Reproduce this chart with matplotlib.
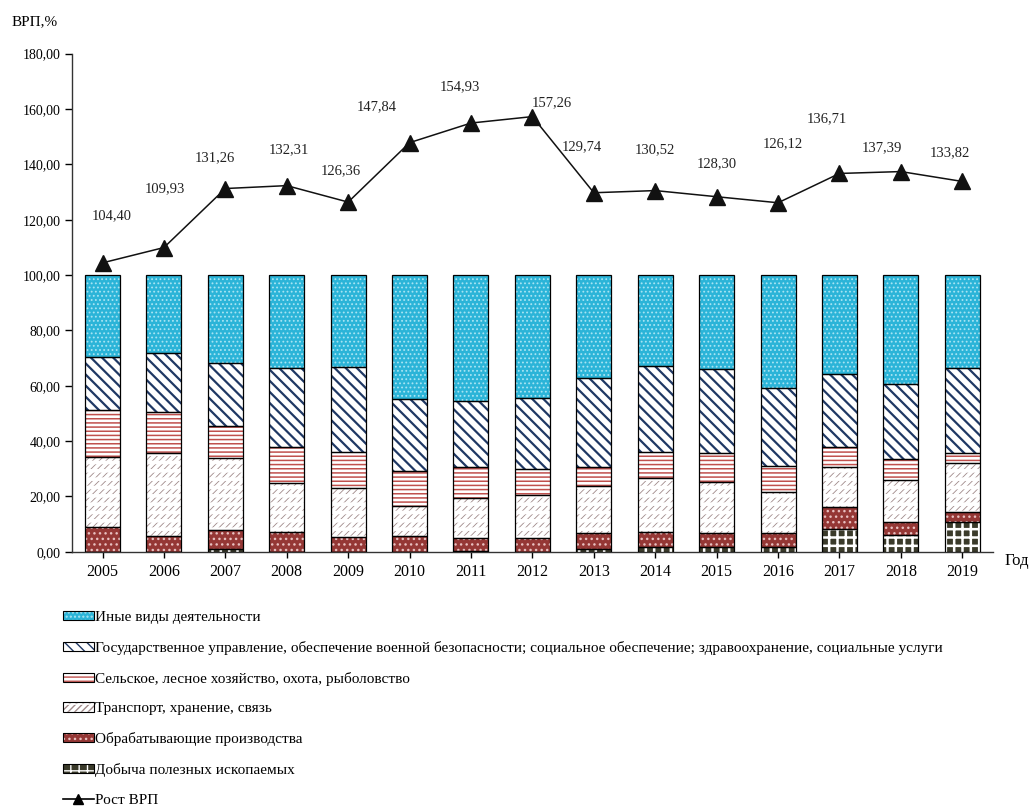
import numpy as np
import matplotlib.pyplot as plt
from matplotlib.patches import Patch
from matplotlib.lines import Line2D
from matplotlib.legend_handler import HandlerTuple

plt.rcParams['font.family'] = ['Liberation Serif', 'DejaVu Serif']

## Data (shares of GRP, %)
years = ['2005', '2006', '2007', '2008', '2009', '2010', '2011', '2012',
         '2013', '2014', '2015', '2016', '2017', '2018', '2019']
mining = [0, 0, 0.8, 0, 0, 0, 0.2, 0, 0.8, 1.6, 1.6, 1.8, 8.1, 6.0, 10.8]
manuf = [8.8, 5.8, 7.0, 7.2, 5.4, 5.7, 4.6, 5.1, 5.8, 5.6, 5.0, 5.1, 7.9, 4.8, 3.7]
transport = [25.5, 29.7, 26.2, 17.5, 17.7, 10.9, 14.5, 15.4, 17.1, 19.3, 18.7, 14.8, 14.5, 15.1, 17.7]
agri = [16.9, 14.9, 11.5, 13.3, 13.0, 12.7, 11.4, 9.3, 7.0, 9.6, 10.5, 9.3, 7.5, 7.5, 3.3]
gov = [19.2, 21.5, 22.6, 28.3, 30.5, 25.8, 23.9, 25.6, 32.2, 31.1, 30.1, 28.3, 26.1, 27.2, 30.8]
other = [29.6, 28.1, 31.9, 33.7, 33.4, 44.9, 45.4, 44.6, 37.1, 32.8, 34.1, 40.7, 35.9, 39.4, 33.7]
growth = [104.40, 109.93, 131.26, 132.31, 126.36, 147.84, 154.93, 157.26,
          129.74, 130.52, 128.30, 126.12, 136.71, 137.39, 133.82]

names = ['Иные виды деятельности',
         'Государственное управление, обеспечение военной безопасности; социальное обеспечение; здравоохранение, социальные услуги',
         'Сельское, лесное хозяйство, охота, рыболовство',
         'Транспорт, хранение, связь',
         'Обрабатывающие производства',
         'Добыча полезных ископаемых',
         'Рост ВРП']

# label offsets from the point, in pixels (dx, dy)
lab_off = [(9, -47), (1, -59), (-10, -31), (2, -36), (-7, -31), (-33, -36), (-11, -36), (19, -14),
           (-12, -46), (0, -41), (0, -33), (5, -59), (-13, -55), (-19, -24), (-12, -29)]

# (face, hatch colour, hatch, hatch linewidth)
styles = {
    'mining': [('#3a3a2a', '#ffffff', '++', 1.8)],
    'manuf': [('#953735', '#e8c0c0', '...', 1.0)],
    'transport': [('#ffffff', '#a08a8a', '/////', 0.6), ('none', '#ffffff', '--', 2.6)],
    'agri': [('#ffffff', '#c0504d', '----', 1.1)],
    'gov': [('#ffffff', '#1f3864', '\\\\\\', 1.6)],
    'other': [('#2bb4d8', '#a8e4f3', '....', 0.8)],
}

fig = plt.figure(figsize=(10.33, 8.06), dpi=100)
ax = fig.add_axes([0.0695, 0.3155, 0.8918, 0.6179])

x = np.arange(len(years))
w = 0.57


def draw_layer(vals, bottom, st):
    for face, hc, hatch, hlw in st:
        with plt.rc_context({'hatch.linewidth': hlw}):
            if face != 'none':
                ax.bar(x, vals, w, bottom=bottom, color=face, lw=0, zorder=2)
            bars = ax.bar(x, vals, w, bottom=bottom, color='none', edgecolor=hc,
                          hatch=hatch, lw=0, zorder=3)
            for b in bars:
                if hasattr(b, 'set_hatch_linewidth'):
                    b.set_hatch_linewidth(hlw)
    ax.bar(x, vals, w, bottom=bottom, color='none', edgecolor='black', lw=0.9, zorder=4)


def legend_patch(st):
    parts = []
    for face, hc, hatch, hlw in st:
        if face != 'none':
            parts.append(Patch(facecolor=face, lw=0))
        p = Patch(facecolor='none', edgecolor=hc, hatch=hatch, lw=0)
        if hasattr(p, 'set_hatch_linewidth'):
            p.set_hatch_linewidth(hlw)
        parts.append(p)
    parts.append(Patch(facecolor='none', edgecolor='black', lw=0.8))
    return tuple(parts)


layers = [(mining, 'mining'), (manuf, 'manuf'), (transport, 'transport'),
          (agri, 'agri'), (gov, 'gov'), (other, 'other')]
bottom = np.zeros(len(years))
for vals, key in layers:
    draw_layer(vals, bottom.copy(), styles[key])
    bottom += np.array(vals)

ax.plot(x, growth, color='#111111', lw=1.1, marker='^', markersize=11, zorder=5)
for i, g in enumerate(growth):
    dx, dy = lab_off[i]
    ax.annotate(f'{g:.2f}'.replace('.', ','), (x[i], g), xytext=(dx * 0.72, -dy * 0.72),
                textcoords='offset points', ha='center', va='center', fontsize=10.5, color='#222222')

ax.set_xlim(-0.5, len(years) - 0.5)
ax.set_ylim(0, 180)
ax.set_yticks(np.arange(0, 181, 20))
ax.set_yticklabels([f'{v:.2f}'.replace('.', ',') for v in np.arange(0, 181, 20)], fontsize=10)
ax.set_xticks(x)
ax.set_xticklabels(years, fontsize=11.5)
ax.tick_params(axis='y', length=5, width=1, pad=3)
ax.tick_params(axis='x', length=4, width=1, pad=5)
for s in ['top', 'right']:
    ax.spines[s].set_visible(False)
for s in ['left', 'bottom']:
    ax.spines[s].set_linewidth(1)
    ax.spines[s].set_color('#333333')

fig.text(0.011, 1 - 22 / 806, 'ВРП,%', fontsize=11, va='center', ha='left')
fig.text(1005 / 1033, 1 - 561 / 806, 'Год', fontsize=12, va='center', ha='left')

# Legend
handles = [legend_patch(styles[k]) for k in ['other', 'gov', 'agri', 'transport', 'manuf', 'mining']]
handles.append(Line2D([], [], color='black', lw=1.2, marker='^', markersize=7))
fig.legend(handles, names, loc='upper left', bbox_to_anchor=(63 / 1033, 1 - 611 / 806),
           frameon=False, borderpad=0, borderaxespad=0, fontsize=11, handlelength=2.0,
           handleheight=0.55, handletextpad=0.1, labelspacing=1.1,
           handler_map={tuple: HandlerTuple(ndivide=1, pad=0)})

plt.savefig('out.png', dpi=100)
